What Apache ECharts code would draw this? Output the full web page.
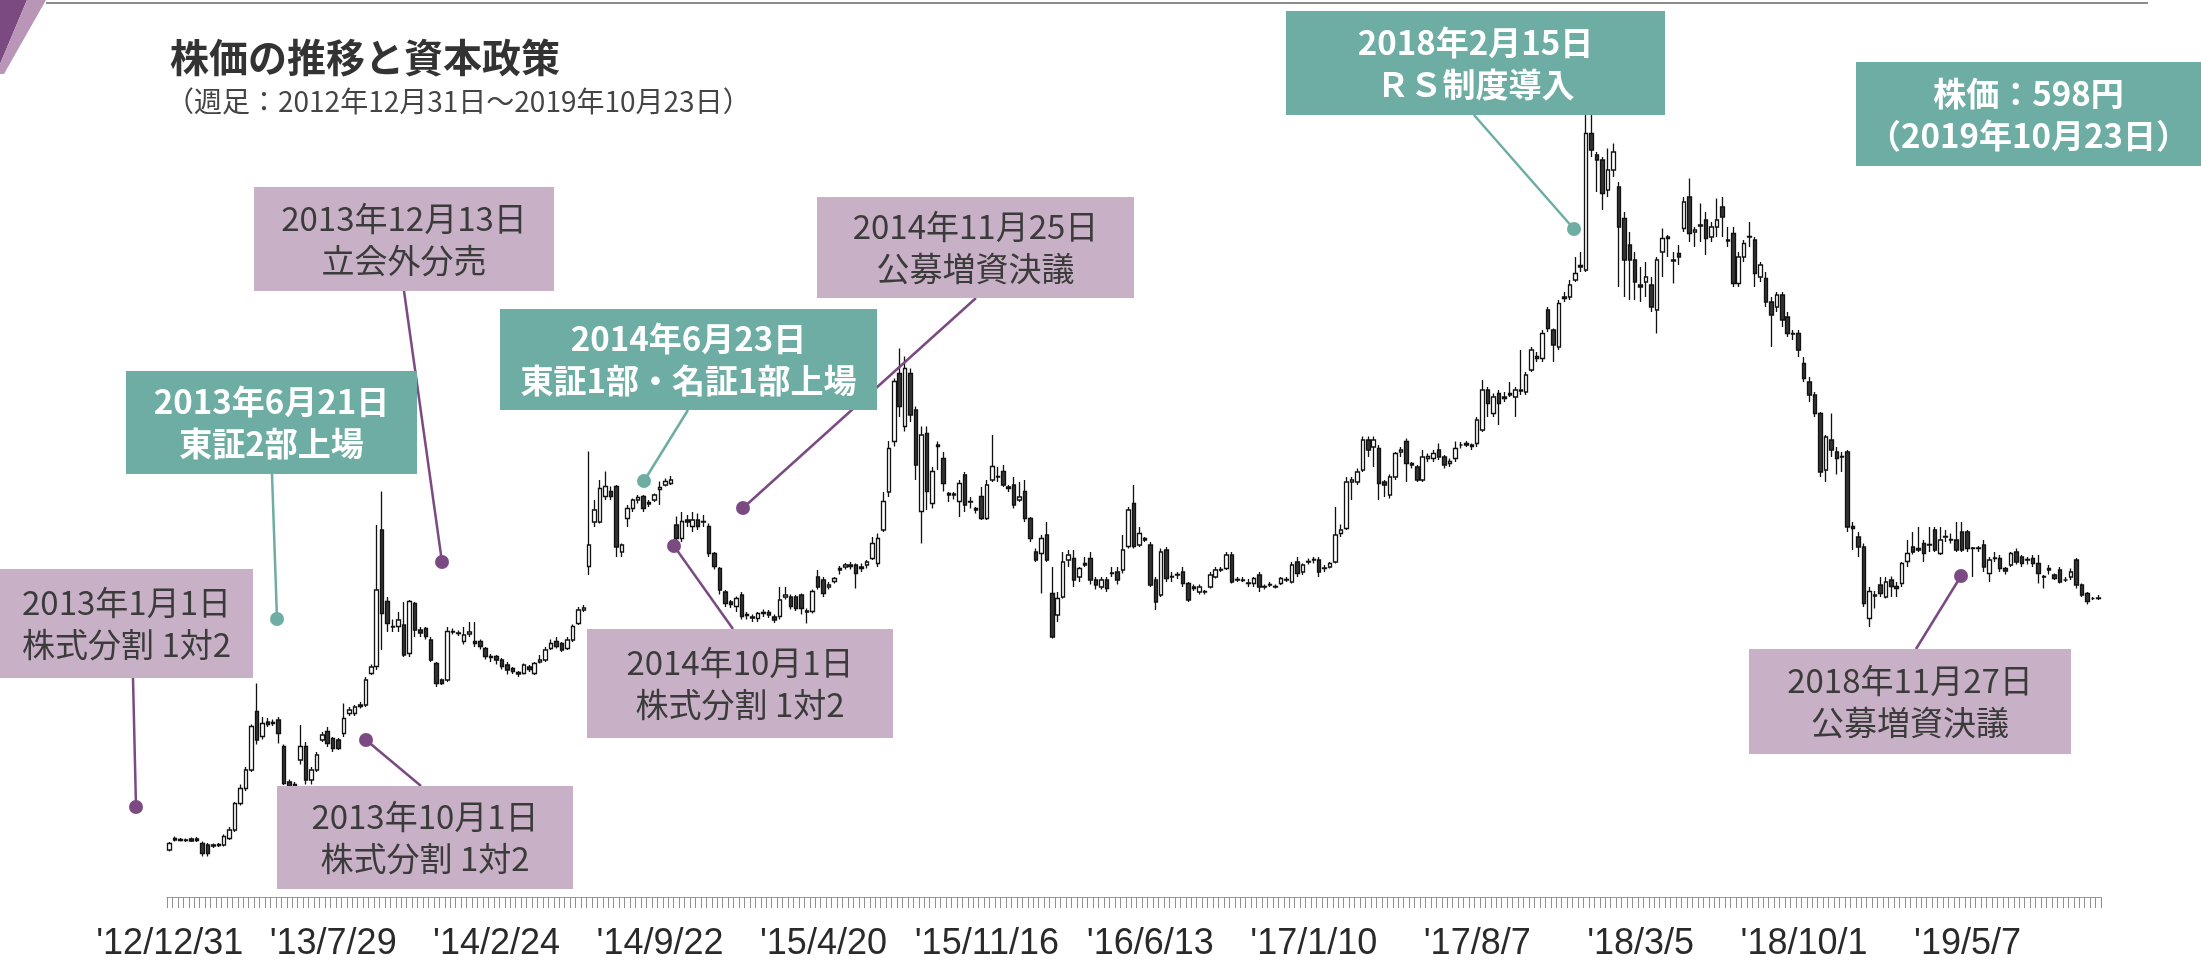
<!DOCTYPE html>
<html>
<head>
<meta charset="utf-8">
<script src="https://cdn.jsdelivr.net/npm/echarts@6/dist/echarts.min.js"></script>
<style>
html,body{margin:0;padding:0;background:#fff;}
#main{width:2201px;height:963px;}
</style>
</head>
<body>
<div id="main"></div>
<script>
// 週足 2012/12/31 から 355本
var startDate = '2012/12/31';
var tickLabels = ["'12/12/31","'13/7/29","'14/2/24","'14/9/22","'15/4/20","'15/11/16","'16/6/13","'17/1/10","'17/8/7","'18/3/5","'18/10/1","'19/5/7"];

// [始値, 終値, 安値, 高値]
var kline2013 = [
[94,107,91,110],[114,117,111,121],[115,113,111,118],[113,114,110,117],[116,112,110,119],[113,116,110,120],
[107,87,81,111],[104,87,81,108],[102,104,98,107],[103,105,100,108],[104,121,101,125],[117,134,114,140],
[134,187,130,190],[187,217,183,225],[217,254,212,260],[254,341,250,345],[371,314,305,427],[321,347,315,360],
[350,345,340,358],[347,349,342,355],[354,327,307,360],[301,227,224,305],[230,221,218,235],[225,200,190,230],
[274,301,265,344],[301,234,225,310],[234,254,225,260],[254,284,250,290],[314,324,310,330],[331,307,300,340],
[317,297,290,320],[314,297,294,318],[327,357,320,387],[367,374,362,380],[367,380,362,384],[381,384,377,390],
[384,434,380,440],[447,460,444,465],[461,614,454,744],[734,567,494,811],[591,547,530,600],[540,541,530,555],
[541,554,530,570],[544,484,480,590],[487,591,480,594],[587,534,520,590],[534,528,520,540],[537,521,515,540],
[514,474,470,520],[467,427,420,470],[434,427,424,437],[434,531,430,540]
];
var kline2014 = [
[531,530,525,537],[527,528,522,533],[511,524,505,540],[526,530,520,550],[511,507,500,550],[511,501,495,515],
[497,481,475,500],[481,479,470,486],[481,474,465,484],[474,461,455,478],[464,454,445,470],[457,451,446,460],
[449,446,440,452],[447,464,445,467],[460,455,450,464],[447,467,444,470],[470,474,467,484],[474,494,470,500],
[497,507,494,515],[511,501,497,520],[507,494,490,510],[497,514,494,520],[514,541,510,545],[547,574,544,580],
[574,578,570,584],[661,704,644,891],[750,774,740,794],[750,817,747,834],[801,821,794,851],[811,801,794,821],
[821,700,680,824],[690,704,680,707],[757,777,740,784],[777,794,770,797],[794,799,787,804],[801,777,770,804],
[789,786,780,794],[794,804,790,807],[815,819,784,831],[824,831,821,837],[827,834,824,842],[744,717,701,761],
[717,751,710,770],[754,750,740,764],[741,754,730,770],[754,741,734,767],[750,751,740,764],[741,687,680,747],
[687,661,655,690],[657,614,605,660],[610,587,580,614],[590,585,578,594]
];
var kline2015 = [
[581,597,570,601],[604,561,555,610],[565,563,555,570],[560,558,550,565],[557,567,550,570],[567,569,560,575],
[569,564,558,574],[560,554,548,565],[561,594,555,620],[600,604,595,620],[600,581,575,605],[600,577,572,604],
[604,577,565,607],[570,572,547,577],[571,611,567,615],[640,620,615,654],[634,607,600,640],[620,624,615,630],
[631,637,627,640],[654,657,645,662],[660,664,655,668],[661,664,655,670],[664,647,617,667],[657,660,650,667],
[664,670,657,674],[677,707,674,720],[667,717,660,727],[734,791,730,810],[810,897,800,912],[911,1031,901,1037],
[1047,981,960,1097],[941,1057,931,1081],[1047,964,950,1057],[974,864,834,981],[771,924,707,941],[927,811,774,941],
[787,851,777,860],[901,904,854,911],[877,827,811,890],[807,804,790,810],[804,806,795,810],[791,827,760,834],
[844,784,770,850],[790,791,777,800],[777,774,767,780],[801,757,754,820],[757,824,754,834],[834,861,830,924],
[840,841,830,860],[851,824,820,864],[820,817,810,824],[824,784,777,840]
];
var kline2016 = [
[794,800,790,830],[811,757,750,834],[757,717,710,760],[690,674,670,697],[687,717,607,724],[724,674,670,750],
[607,520,517,660],[564,597,550,610],[600,670,597,690],[674,684,660,694],[677,634,620,694],[640,657,630,660],
[664,667,660,680],[677,634,625,690],[634,624,615,640],[620,634,615,640],[634,617,610,640],[647,648,640,660],
[650,634,625,660],[654,694,647,724],[701,774,697,780],[787,701,697,824],[704,727,700,740],[714,717,710,720],
[704,624,620,710],[634,590,574,640],[604,690,600,697],[694,637,630,700],[640,641,630,650],[644,645,636,650],
[650,627,620,660],[627,594,590,630],[620,617,612,625],[610,620,605,625],[610,611,605,614],[620,644,617,650],
[640,654,637,660],[654,655,650,660],[657,684,654,690],[684,630,627,690],[634,635,630,640],[634,633,630,640],
[627,628,620,636],[627,637,620,640],[644,620,610,650],[620,621,615,625],[624,625,620,630],[620,621,617,625],
[627,637,624,640],[634,635,630,640],[630,664,627,670],[670,647,640,680]
];
var kline2017 = [
[650,664,644,667],[670,671,665,677],[674,675,667,680],[674,650,640,680],[657,658,650,664],[660,667,657,670],
[670,724,667,780],[727,734,720,745],[737,830,734,840],[830,834,794,840],[830,850,824,857],[854,914,850,921],
[914,894,880,921],[900,914,860,921],[897,827,794,904],[830,824,800,834],[804,840,797,845],[840,887,834,890],
[890,894,880,900],[911,867,830,917],[867,864,857,870],[860,834,830,864],[834,880,830,894],[877,881,870,887],
[877,887,870,894],[894,880,874,907],[880,864,857,884],[867,871,860,877],[877,897,870,911],[904,904,897,910],
[904,907,900,912],[904,901,894,907],[907,954,900,960],[934,1014,930,1034],[1014,987,960,1020],[967,1000,960,1007],
[1007,987,944,1014],[997,1000,990,1010],[1004,1007,1000,1030],[1000,1014,960,1020],[1012,1014,1004,1094],[1010,1044,1004,1050],
[1054,1094,1050,1100],[1081,1077,1070,1090],[1077,1127,1070,1134],[1174,1137,1130,1180],[1134,1104,1070,1137],[1100,1187,1094,1194],
[1197,1200,1190,1210],[1200,1224,1194,1234],[1234,1247,1230,1280],[1260,1263,1250,1290],[1254,1527,1250,1570]
];
var kline2018 = [
[1527,1494,1480,1564],[1484,1474,1410,1490],[1474,1407,1374,1480],[1414,1454,1400,1497],[1454,1490,1440,1507],[1420,1340,1220,1430],
[1357,1274,1200,1370],[1304,1274,1194,1330],[1274,1230,1194,1290],[1224,1220,1190,1260],[1230,1240,1200,1270],[1224,1180,1170,1240],
[1174,1274,1127,1280],[1290,1317,1240,1337],[1317,1320,1280,1324],[1274,1272,1227,1290],[1287,1280,1264,1304],[1337,1390,1330,1400],
[1400,1327,1310,1437],[1330,1334,1300,1340],[1342,1344,1310,1387],[1354,1317,1284,1370],[1320,1340,1310,1350],[1340,1354,1320,1397],
[1380,1360,1320,1400],[1314,1312,1300,1340],[1327,1227,1220,1340],[1227,1280,1220,1290],[1280,1307,1270,1314],[1320,1321,1300,1350],
[1314,1247,1220,1320],[1240,1264,1230,1270],[1237,1190,1180,1250],[1190,1164,1100,1200],[1180,1204,1170,1210],[1204,1154,1140,1210],
[1160,1127,1120,1170],[1127,1126,1114,1134],[1127,1094,1080,1134],[1067,1037,1030,1080],[1030,1004,990,1040],[1004,967,960,1010],
[967,850,840,970],[854,920,830,924],[914,894,880,967],[890,877,845,900],[880,881,850,890],[890,740,730,894],
[741,737,694,750],[720,700,680,730],[700,587,580,707],[557,611,540,620]
];
var kline2019 = [
[602,604,577,612],[624,607,600,640],[600,630,597,640],[634,621,600,641],[621,617,600,630],[627,667,620,670],
[671,687,660,714],[700,690,685,730],[697,694,690,740],[707,687,670,714],[704,705,690,740],[734,694,690,740],
[687,714,684,740],[720,721,710,734],[714,715,707,727],[714,694,690,750],[730,694,690,750],[730,697,690,734],
[697,698,640,700],[697,698,690,702],[704,660,650,714],[647,674,630,680],[677,678,670,690],[677,657,650,684],
[657,652,645,660],[664,687,660,690],[690,670,665,697],[680,667,660,684],[674,675,665,680],[677,667,660,684],
[667,647,627,684],[640,641,617,644],[654,657,645,664],[644,637,634,647],[654,630,627,660],[634,634,630,640],
[640,650,634,657],[674,624,617,678],[624,604,600,627],[607,591,585,610],[597,597,594,600],[597,598,594,604]
];

var noteTexts = [
  ['2013年1月1日', '株式分割 1対2'],
  ['2013年6月21日', '東証2部上場'],
  ['2013年10月1日', '株式分割 1対2'],
  ['2013年12月13日', '立会外分売'],
  ['2014年6月23日', '東証1部・名証1部上場'],
  ['2014年11月25日', '公募増資決議'],
  ['2014年10月1日', '株式分割 1対2'],
  ['2018年2月15日', 'ＲＳ制度導入'],
  ['株価：598円', '（2019年10月23日）'],
  ['2018年11月27日', '公募増資決議']
];
var titleText = '株価の推移と資本政策';
var subTitleText = '（週足：2012年12月31日～2019年10月23日）';

var kline = [].concat(kline2013, kline2014, kline2015, kline2016, kline2017, kline2018, kline2019);

// 週の日付（カテゴリ）
var weeks = [];
var d0 = new Date(startDate);
for (var i = 0; i < kline.length; i++) {
  var d = new Date(d0.getTime() + i * 7 * 24 * 3600 * 1000);
  weeks.push(d.getFullYear() + '/' + (d.getMonth() + 1) + '/' + d.getDate());
}

var PINK = '#c8b1c6', TEAL = '#6eada4', PURPLE = '#7b4a83';
var JP = '"Noto Sans CJK JP", sans-serif';

// 注記の配置 [x, y, w, h, 種類, 点x, 点y, 線x, 線y]
var noteBoxes = [
  [0, 569, 253, 109, 'p', 136, 807, 133, 678],
  [126, 371, 291, 103, 't', 277, 619, 272, 474],
  [277, 786, 296, 103, 'p', 366, 740, 421, 786],
  [254, 187, 300, 104, 'p', 442, 562, 404, 291],
  [500, 309, 377, 101, 't', 644, 481, 688, 410],
  [817, 197, 317, 101, 'p', 743, 508, 976, 298],
  [587, 629, 306, 109, 'p', 674, 546, 733, 629],
  [1286, 11, 379, 104, 't', 1574, 229, 1474, 115],
  [1856, 62, 345, 104, 't', null, null, null, null],
  [1749, 649, 322, 105, 'p', 1961, 576, 1916, 649]
];

var graphics = [];
// 左上の飾り
graphics.push({type: 'polygon', z: 100, shape: {points: [[0, 0], [27, 0], [0, 64]]}, style: {fill: '#7a4a80'}});
graphics.push({type: 'polygon', z: 100, shape: {points: [[27, 0], [46, 0], [4, 74], [0, 74], [0, 64]]}, style: {fill: '#b995b7'}});
graphics.push({type: 'line', z: 100, shape: {x1: 46, y1: 3, x2: 2148, y2: 3}, style: {stroke: '#8c8c8c', lineWidth: 2}});
graphics.push({type: 'text', z: 100, left: 170, top: 38, style: {text: titleText, font: 'bold 39px ' + JP, fill: '#333'}});
graphics.push({type: 'text', z: 100, left: 166, top: 87, style: {text: subTitleText, font: '28px ' + JP, fill: '#444'}});

noteBoxes.forEach(function (b, k) {
  var isTeal = b[4] === 't';
  var col = isTeal ? TEAL : PURPLE;
  if (b[5] !== null) {
    graphics.push({type: 'line', z: 100, shape: {x1: b[5], y1: b[6], x2: b[7], y2: b[8]}, style: {stroke: col, lineWidth: 2.5}});
    graphics.push({type: 'circle', z: 101, shape: {cx: b[5], cy: b[6], r: 7}, style: {fill: col}});
  }
  graphics.push({type: 'rect', z: 102, shape: {x: b[0], y: b[1], width: b[2], height: b[3]}, style: {fill: isTeal ? TEAL : PINK}});
  graphics.push({
    type: 'text', z: 103, x: b[0] + b[2] / 2, y: b[1] + b[3] / 2,
    style: {
      text: noteTexts[k].join('\n'),
      font: (isTeal ? 'bold ' : '') + '33px ' + JP,
      fill: isTeal ? '#fff' : '#3b3b3b',
      align: 'center', verticalAlign: 'middle', lineHeight: 42
    }
  });
});

var chart = echarts.init(document.getElementById('main'));
chart.setOption({
  animation: false,
  backgroundColor: '#fff',
  grid: {left: 167, right: 100, top: 97, bottom: 66},
  xAxis: {
    type: 'category',
    data: weeks,
    boundaryGap: true,
    offset: 8,
    axisLine: {show: true, lineStyle: {color: '#9a9a9a', width: 1}},
    axisTick: {show: true, interval: 0, length: 11, lineStyle: {color: '#8f8f8f', width: 1}},
    axisLabel: {
      interval: function (index) { return index % 30 === 0; },
      formatter: function (v, index) { return tickLabels[index / 30] || ''; },
      margin: 21,
      fontSize: 36,
      fontFamily: '"Liberation Sans", Arial, sans-serif',
      color: '#2a2a2a'
    },
    splitLine: {show: false}
  },
  yAxis: {
    type: 'value', min: 0, max: 1600, show: false, splitLine: {show: false}
  },
  series: [{
    type: 'candlestick',
    data: kline,
    barWidth: 4,
    itemStyle: {
      color: '#ffffff', color0: '#333333',
      borderColor: '#111111', borderColor0: '#111111', borderWidth: 1.3
    }
  }],
  graphic: graphics
});
</script>
</body>
</html>
